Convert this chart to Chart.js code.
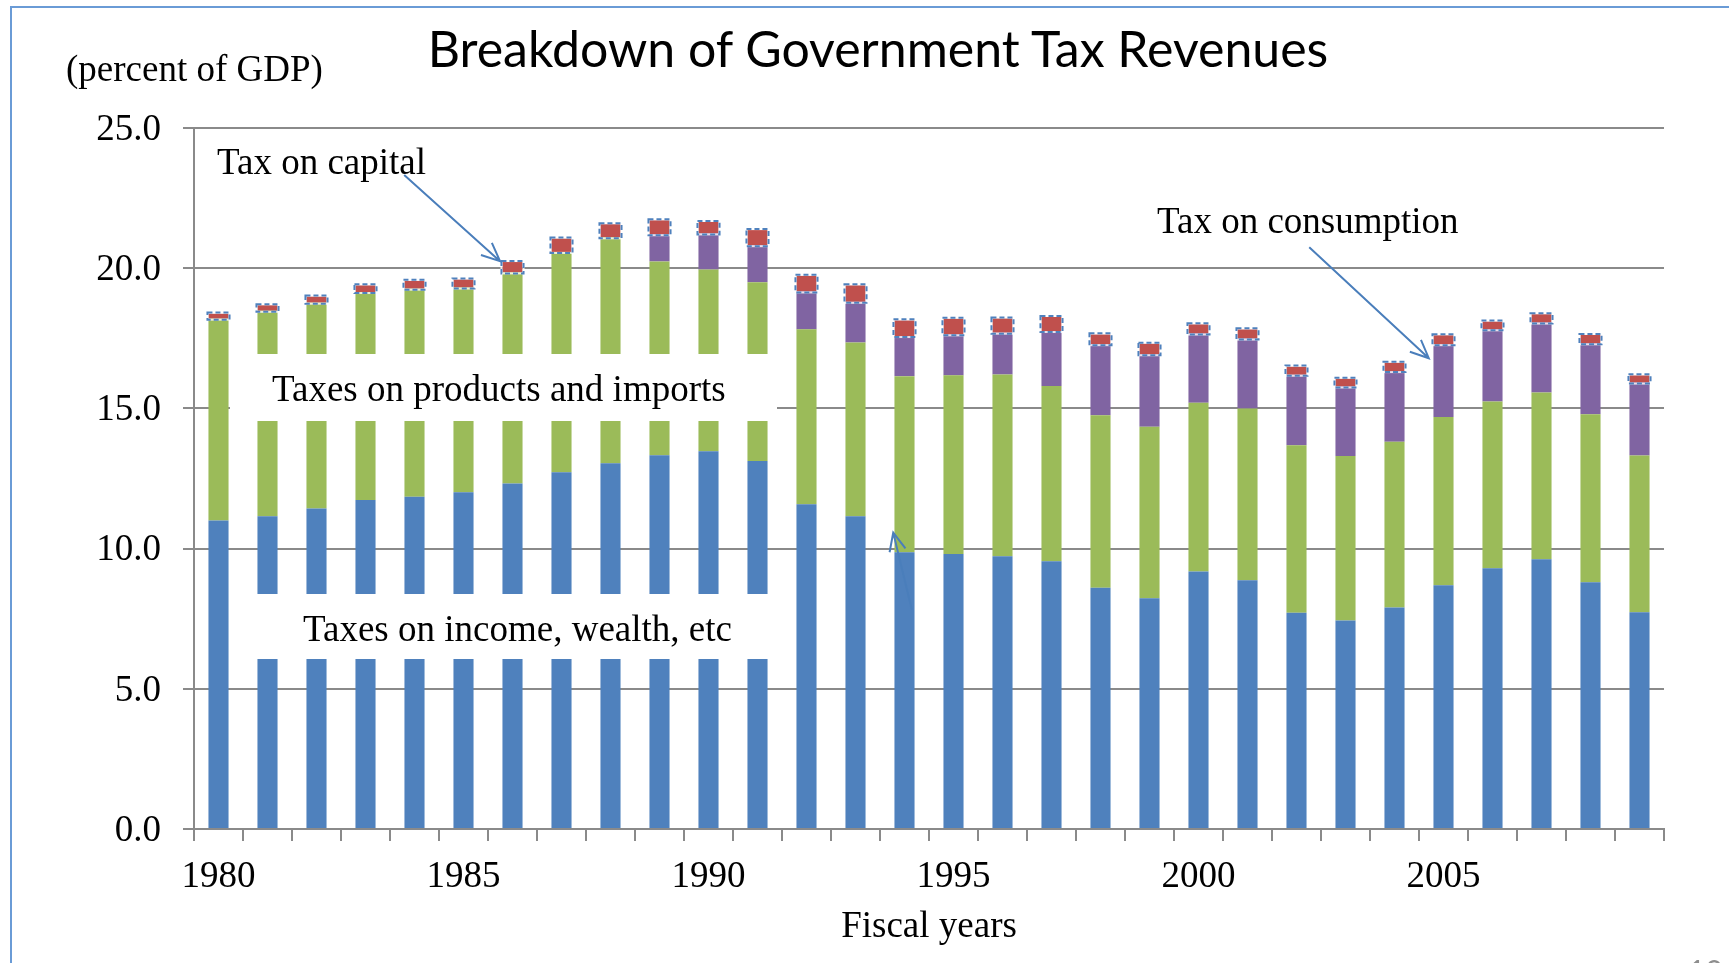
<!DOCTYPE html>
<html>
<head>
<meta charset="utf-8">
<title>Breakdown of Government Tax Revenues</title>
<script src="https://cdn.jsdelivr.net/npm/chart.js@4.4.1/dist/chart.umd.min.js"></script>
<style>
  html, body { margin: 0; padding: 0; background: #fff; }
  #wrap { position: relative; width: 1729px; height: 963px; overflow: hidden; background: #fff; }
  #c { position: absolute; left: 0; top: 0; }
  .frame { position: absolute; left: 10px; top: 6px; width: 1800px; height: 1000px;
           border-left: 2px solid #6a9bd6; border-top: 2px solid #6a9bd6; }
  .lbl { position: absolute; font-family: "Liberation Serif", "Times New Roman", serif;
         font-size: 37px; line-height: 37px; color: #000; white-space: nowrap; }
  .box { position: absolute; background: #fff; }
  #title { position: absolute; left: 878px; top: 23px; transform: translateX(-50%);
           font-family: Lato, "Open Sans", sans-serif; font-size: 50px; line-height: 50px;
           color: #000; white-space: nowrap; }
  #page { position: absolute; left: 1688px; top: 955px; font-family: Lato, sans-serif;
          font-size: 30px; line-height: 30px; color: #8e8e8e; }
</style>
</head>
<body>
<div id="wrap">
  <canvas id="c" width="1729" height="963"></canvas>
  <div class="frame"></div>
  <div id="title">Breakdown of Government Tax Revenues</div>
  <div class="lbl" style="left:66px; top:50px;">(percent of GDP)</div>
  <div class="lbl" style="left:217px; top:143px;">Tax on capital</div>
  <div class="lbl" style="left:1157px; top:202px;">Tax on consumption</div>
  <div class="box" style="left:230px; top:354px; width:547px; height:67px;"></div>
  <div class="lbl" style="left:272px; top:370px;">Taxes on products and imports</div>
  <div class="box" style="left:230px; top:594px; width:547px; height:65px;"></div>
  <div class="lbl" style="left:303px; top:610px;">Taxes on income, wealth, etc</div>
  <div id="page">10</div>
</div>

<script>
// Fiscal years on the x axis
const years = ['1980', '1981', '1982', '1983', '1984', '1985', '1986', '1987', '1988', '1989',
               '1990', '1991', '1992', '1993', '1994', '1995', '1996', '1997', '1998', '1999',
               '2000', '2001', '2002', '2003', '2004', '2005', '2006', '2007', '2008', '2009'];

// percent of GDP (stacked from bottom to top)
const incomeTax = [11.00, 11.15, 11.43, 11.73, 11.85, 12.01, 12.32, 12.72, 13.04, 13.33,
                   13.47, 13.12, 11.58, 11.15, 9.87, 9.81, 9.73, 9.55, 8.60, 8.23,
                   9.18, 8.87, 7.71, 7.44, 7.90, 8.69, 9.30, 9.62, 8.80, 7.73];
const productsTax = [7.20, 7.33, 7.34, 7.42, 7.42, 7.30, 7.53, 7.86, 8.06, 6.91,
                     6.48, 6.38, 6.24, 6.20, 6.28, 6.37, 6.48, 6.25, 6.16, 6.12,
                     6.02, 6.13, 5.98, 5.86, 5.91, 6.00, 5.95, 5.95, 5.99, 5.59];
const consumptionTax = [0, 0, 0, 0, 0, 0, 0, 0, 0, 0.97,
                        1.29, 1.32, 1.35, 1.45, 1.43, 1.46, 1.49, 1.96, 2.53, 2.58,
                        2.47, 2.49, 2.51, 2.48, 2.52, 2.60, 2.57, 2.49, 2.53, 2.60];
const capitalTax = [0.18, 0.20, 0.22, 0.24, 0.28, 0.29, 0.37, 0.48, 0.47, 0.50,
                    0.41, 0.54, 0.56, 0.59, 0.56, 0.56, 0.51, 0.50, 0.35, 0.38,
                    0.33, 0.33, 0.29, 0.28, 0.30, 0.32, 0.28, 0.30, 0.30, 0.26];

const xTickLabels = ['1980', '1985', '1990', '1995', '2000', '2005'];
const yTickLabels = ['0.0', '5.0', '10.0', '15.0', '20.0', '25.0'];

// annotation arrows, in data units (category index, percent)
const arrows = [
  { from: [3.79, 23.32], to: [5.745, 20.25] },   // Tax on capital
  { from: [22.26, 20.75], to: [24.70, 16.79] },  // Tax on consumption
  { from: [14.15, 7.82], to: [13.77, 10.57] }    // stray arrow near 1994
];

const serif = 'Liberation Serif';
const gridGray = '#8a8a8a';

// dashed outline on the capital segments + the callout arrows
const extrasPlugin = {
  id: 'extras',
  afterDatasetsDraw(chart) {
    const ctx = chart.ctx;
    const meta = chart.getDatasetMeta(3);
    ctx.save();
    meta.data.forEach(bar => {
      const w = bar.width;
      const left = bar.x - w / 2 - 1;
      const top = bar.y - 1;
      const h = bar.base - bar.y + 2;
      ctx.lineWidth = 2;
      ctx.setLineDash([]);
      ctx.strokeStyle = 'rgba(255,255,255,0.8)';
      ctx.strokeRect(left, top, w + 2, h);
      ctx.setLineDash([5, 3]);
      ctx.strokeStyle = '#4f81bd';
      ctx.strokeRect(left, top, w + 2, h);
    });
    ctx.setLineDash([]);

    const xs = chart.scales.x, ys = chart.scales.y;
    ctx.strokeStyle = '#4a7ebb';
    ctx.lineWidth = 2;
    arrows.forEach(a => {
      const x1 = xs.getPixelForValue(a.from[0]), y1 = ys.getPixelForValue(a.from[1]);
      const x2 = xs.getPixelForValue(a.to[0]), y2 = ys.getPixelForValue(a.to[1]);
      const ang = Math.atan2(y2 - y1, x2 - x1);
      const len = 20, spread = 0.42;
      ctx.beginPath();
      ctx.moveTo(x1, y1);
      ctx.lineTo(x2, y2);
      ctx.moveTo(x2 - len * Math.cos(ang - spread), y2 - len * Math.sin(ang - spread));
      ctx.lineTo(x2, y2);
      ctx.lineTo(x2 - len * Math.cos(ang + spread), y2 - len * Math.sin(ang + spread));
      ctx.stroke();
    });
    ctx.restore();
  }
};

const ds = (label, data, color) => ({
  label: label,
  data: data,
  backgroundColor: color,
  borderWidth: 0,
  barPercentage: 0.41,
  categoryPercentage: 1.0
});

new Chart(document.getElementById('c').getContext('2d'), {
  type: 'bar',
  data: {
    labels: years,
    datasets: [
      ds('Taxes on income, wealth, etc', incomeTax, '#4f81bd'),
      ds('Taxes on products and imports', productsTax, '#9bbb59'),
      ds('Tax on consumption', consumptionTax, '#8064a2'),
      ds('Tax on capital', capitalTax, '#c0504d')
    ]
  },
  options: {
    responsive: false,
    animation: false,
    layout: { padding: { left: 0, right: 65, top: 128, bottom: 0 } },
    plugins: {
      legend: { display: false },
      tooltip: { enabled: false },
      title: { display: false }
    },
    scales: {
      x: {
        stacked: true,
        grid: { display: true, offset: true, drawOnChartArea: false, drawTicks: true,
                tickLength: 12, color: gridGray, lineWidth: 2 },
        border: { display: true, color: gridGray, width: 2 },
        ticks: {
          autoSkip: false, maxRotation: 0, minRotation: 0, padding: 14,
          color: '#000', font: { family: serif, size: 37 },
          callback: function (value, index) {
            const lab = years[index];
            return xTickLabels.includes(lab) ? lab : '';
          }
        },
        title: { display: true, text: 'Fiscal years', color: '#000',
                 font: { family: serif, size: 37 }, padding: { top: 0, bottom: 14 } },
        afterFit: function (axis) { axis.height = 134; }
      },
      y: {
        stacked: true,
        min: 0, max: 25,
        grid: { color: gridGray, lineWidth: 2, tickLength: 11, drawTicks: true },
        border: { display: true, color: gridGray, width: 2 },
        ticks: {
          stepSize: 5, padding: 22, labelOffset: 2, color: '#000',
          font: { family: serif, size: 37 },
          callback: function (value, index) { return yTickLabels[index]; }
        },
        afterFit: function (axis) { axis.width = 194; }
      }
    }
  },
  plugins: [extrasPlugin]
});
</script>
</body>
</html>
